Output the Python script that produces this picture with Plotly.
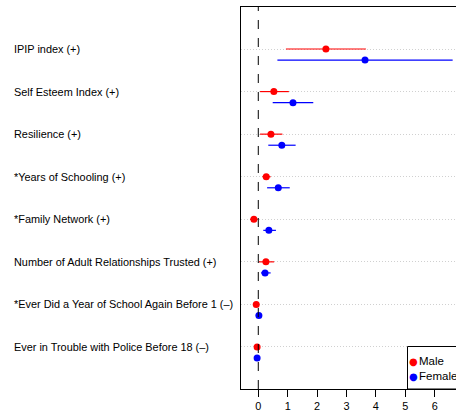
import plotly.graph_objects as go

labels = [
    "IPIP index (+)",
    "Self Esteem Index (+)",
    "Resilience (+)",
    "*Years of Schooling (+)",
    "*Family Network (+)",
    "Number of Adult Relationships Trusted (+)",
    "*Ever Did a Year of School Again Before 1 (\u2013)",
    "Ever in Trouble with Police Before 18 (\u2013)",
]
male_est = [2.30, 0.53, 0.43, 0.27, -0.15, 0.26, -0.07, -0.04]
male_lo = [0.94, 0.06, 0.06, 0.14, -0.28, 0.02, -0.10, -0.07]
male_hi = [3.66, 1.04, 0.82, 0.42, -0.02, 0.54, -0.04, -0.01]
female_est = [3.63, 1.18, 0.80, 0.68, 0.36, 0.23, 0.02, -0.04]
female_lo = [0.65, 0.49, 0.34, 0.30, 0.17, 0.09, 0.00, -0.07]
female_hi = [6.61, 1.87, 1.27, 1.07, 0.60, 0.42, 0.04, -0.01]
x_ticks = [0, 1, 2, 3, 4, 5, 6]
legend_names = ["Male", "Female"]
colors = ["#FF0000", "#0000FF"]

n = len(labels)
row_y = [n - i for i in range(n)]
female_offset = 0.26
female_y = [y - female_offset for y in row_y]

fig = go.Figure()


def add_series(est, lo, hi, ys, color, name):
    fig.add_trace(go.Scatter(
        x=est, y=ys, mode="markers", name=name, showlegend=False,
        marker=dict(color=color, size=7),
        error_x=dict(type="data", symmetric=False,
                     array=[h - e for h, e in zip(hi, est)],
                     arrayminus=[e - l for e, l in zip(est, lo)],
                     color=color, thickness=1.2, width=0),
    ))


add_series(male_est, male_lo, male_hi, row_y, colors[0], legend_names[0])
add_series(female_est, female_lo, female_hi, female_y, colors[1], legend_names[1])

fnt = "Liberation Sans, Arial, sans-serif"
W, H = 456, 416
ml, mr, mt, mb = 241, 0, 7, 27
pw, ph = W - ml - mr, H - mt - mb


def px_x(p):
    return (p - ml) / pw


def px_y(p):
    return (H - mb - p) / ph


annotations = []
for lab, y in zip(labels, row_y):
    annotations.append(dict(
        x=px_x(12), xref="paper", y=y, yref="y", text=lab, showarrow=False,
        xanchor="left", yanchor="middle", font=dict(family=fnt, size=10.9, color="black"),
    ))

# legend (R-style box)
leg_rows = [361, 376]
for name, col, yy in zip(legend_names, colors, leg_rows):
    annotations.append(dict(
        x=px_x(413.5), xref="paper", y=px_y(yy), yref="paper", text="\u25cf", showarrow=False,
        xanchor="center", yanchor="middle", font=dict(family="DejaVu Sans", size=10, color=col),
    ))
    annotations.append(dict(
        x=px_x(417), xref="paper", y=px_y(yy), yref="paper", text=name, showarrow=False,
        xanchor="left", yanchor="middle", font=dict(family=fnt, size=11.5, color="black"),
    ))

shapes = [
    dict(type="line", xref="x", yref="paper", x0=0, x1=0, y0=0, y1=1,
         line=dict(color="black", width=1, dash="dash"), layer="above"),
    dict(type="rect", xref="paper", yref="paper", x0=px_x(407.5), x1=1.2,
         y0=0, y1=px_y(346.5), line=dict(color="black", width=1), fillcolor="white"),
]

fig.update_layout(
    width=W, height=H,
    margin=dict(l=ml, r=mr, t=mt, b=mb, pad=0),
    paper_bgcolor="white", plot_bgcolor="white",
    font=dict(family=fnt, size=10.9, color="black"),
    annotations=annotations, shapes=shapes, showlegend=False,
    xaxis=dict(range=[-0.588, 6.724], tickvals=x_ticks, ticktext=[str(t) for t in x_ticks],
               showgrid=False, zeroline=False, showline=True, mirror=True,
               linecolor="black", linewidth=1, ticks="outside", ticklen=7,
               tickcolor="black", tickfont=dict(family=fnt, size=10.9, color="black")),
    yaxis=dict(range=[0.013, 8.987], tickvals=row_y, showticklabels=False,
               showgrid=True, gridcolor="#d0d0d0", griddash="1px,2px", gridwidth=1,
               zeroline=False, showline=True, mirror=True, linecolor="black",
               linewidth=1, ticks=""),
)

fig.write_html("out.html", config={"displayModeBar": False},
               post_script="document.body.style.margin='0';document.body.style.overflow='hidden';")
